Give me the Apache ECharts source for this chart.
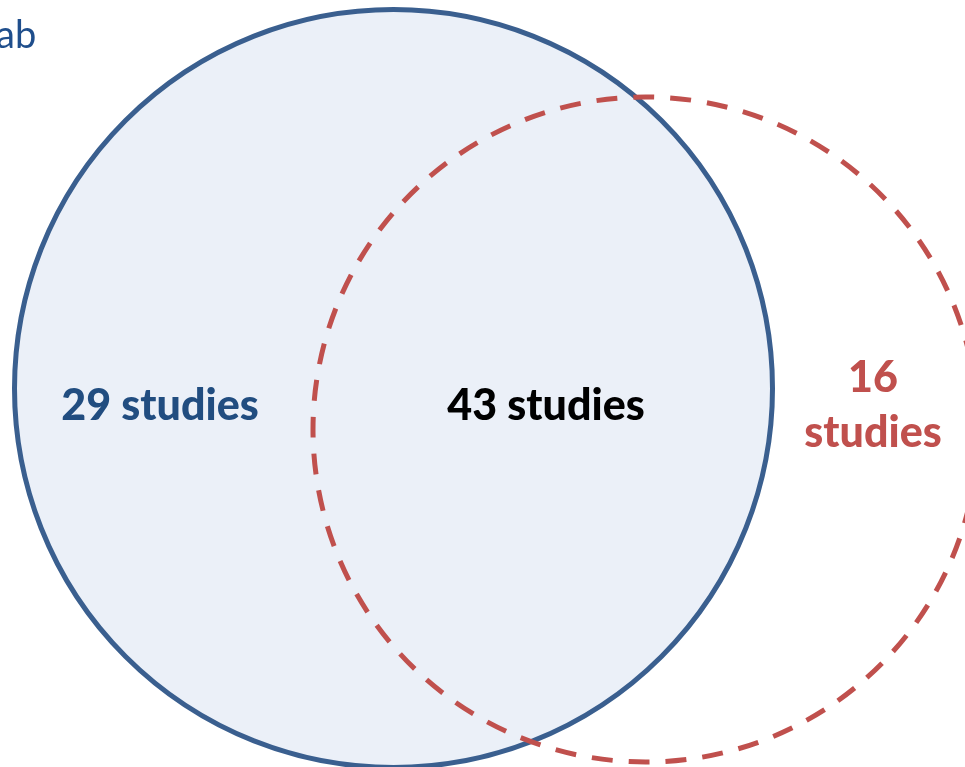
<!DOCTYPE html>
<html>
<head>
<meta charset="utf-8">
<script src="https://cdn.jsdelivr.net/npm/echarts@6/dist/echarts.min.js"></script>
<style>
html,body{margin:0;padding:0;background:#fff;}
#chart{width:965px;height:767px;}
</style>
</head>
<body>
<div id="chart"></div>
<script>
// Two study sets and their overlap
const setNames = ['Blue set', 'Red set'];
const onlyBlue = 29;
const shared = 43;
const onlyRed = 16;

// Circle layout in plot units: [centerX, centerY, radius]
const blueCircle = [393.5, 388.5, 379];
const redCircle = [645.5, 429.5, 332.5];

// Region labels: [x, y, text]
const regionLabels = [
  [160, 406, onlyBlue + ' studies'],
  [546, 406, shared + ' studies'],
  [873, 406, onlyRed + '\nstudies']
];

const chart = echarts.init(document.getElementById('chart'), null, {renderer: 'canvas'});

function circleItem(style) {
  return function (params, api) {
    const c = api.coord([api.value(0), api.value(1)]);
    const r = api.size([api.value(2), 0])[0];
    return {type: 'circle', shape: {cx: c[0], cy: c[1], r: r}, style: style};
  };
}

chart.setOption({
  animation: false,
  grid: {left: 0, right: 0, top: 0, bottom: 0},
  xAxis: {type: 'value', min: 0, max: 965, show: false},
  yAxis: {type: 'value', min: 0, max: 767, inverse: true, show: false},
  graphic: [{
    type: 'text', left: -4, top: 17,
    style: {text: 'ab', font: '38px Lato', fill: '#1f4e8c'}
  }],
  series: [
    {
      name: setNames[0], type: 'custom', z: 1,
      renderItem: circleItem({fill: '#ebf0f8', stroke: '#3a5f8f', lineWidth: 5}),
      data: [blueCircle]
    },
    {
      name: setNames[1], type: 'custom', z: 2,
      renderItem: circleItem({fill: 'none', stroke: '#c0504d', lineWidth: 5, lineDash: [21, 16]}),
      data: [redCircle]
    },
    {
      type: 'custom', z: 3,
      renderItem: function (params, api) {
        const c = api.coord([api.value(0), api.value(1)]);
        const colors = ['#214d80', '#000000', '#c0504d'];
        return {
          type: 'text',
          style: {
            x: c[0], y: c[1], text: regionLabels[params.dataIndex][2],
            align: 'center', verticalAlign: 'middle',
            font: '900 43px Lato', lineHeight: 55,
            fill: colors[params.dataIndex]
          }
        };
      },
      data: regionLabels.map(d => [d[0], d[1]])
    }
  ]
});
</script>
</body>
</html>
